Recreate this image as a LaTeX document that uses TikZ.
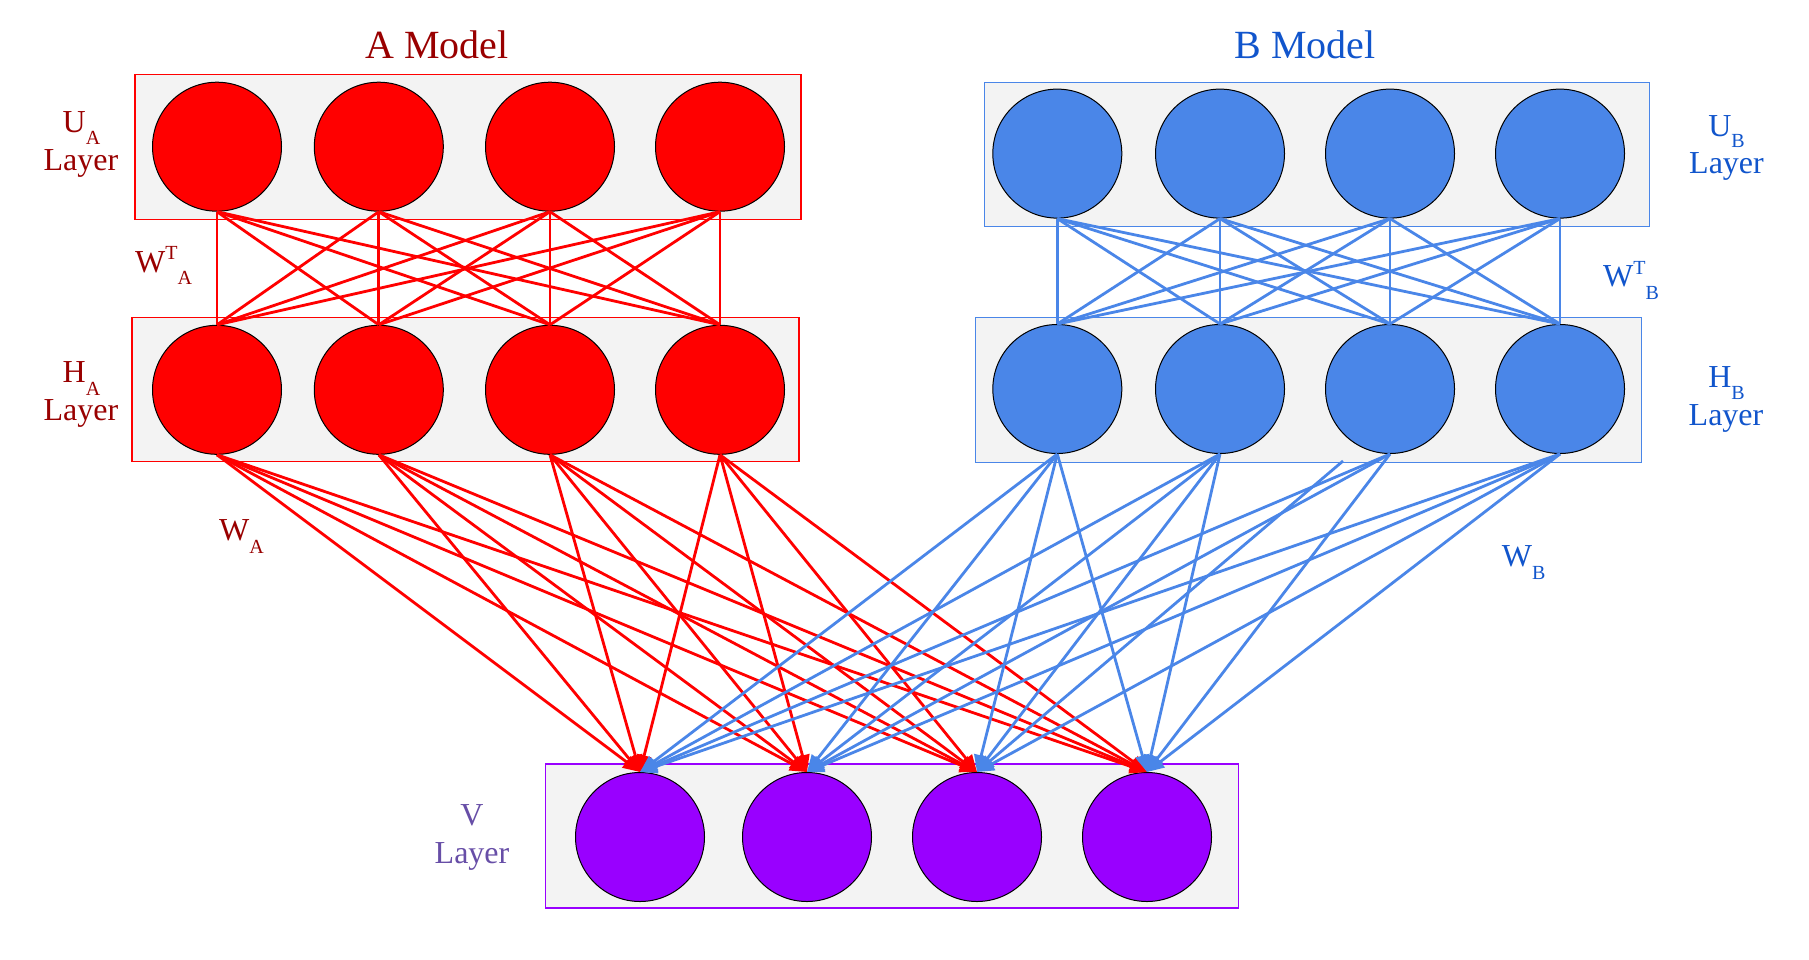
\documentclass[tikz,border=0pt]{standalone}
\usepackage{fontspec}
\setmainfont{Liberation Serif}
\usetikzlibrary{arrows.meta}
\definecolor{aRed}{HTML}{FF0000}
\definecolor{aText}{HTML}{990000}
\definecolor{bBlue}{HTML}{4A86E8}
\definecolor{bText}{HTML}{1155CC}
\definecolor{vPurple}{HTML}{9900FF}
\definecolor{vText}{HTML}{674EA7}
\definecolor{boxGray}{HTML}{F3F3F3}
\newcommand{\subf}{\fontsize{20}{20}\selectfont}
\newcommand{\shiftsub}[2]{\raisebox{#1}[0pt][0pt]{\subf #2}}
\begin{document}
\begin{tikzpicture}[x=1pt,y=-1pt,
  layerbox/.style={line width=1.2pt, fill=boxGray, minimum height=144pt, inner sep=0pt},
  neuron/.style={circle, draw=black, line width=1pt, minimum size=129pt, inner sep=0pt},
  linkA/.style={aRed, line width=2.8pt},
  linkB/.style={bBlue, line width=2.8pt},
  tipstyle/.style={-{Triangle[length=17pt,width=14pt]}},
  lbl/.style={inner sep=0pt, font=\fontsize{32}{38}\selectfont},
  ttl/.style={inner sep=0pt, font=\fontsize{40}{48}\selectfont, anchor=base}]
\useasboundingbox (0,0) rectangle (1809,959);
\fill[white] (0,0) rectangle (1809,959);

% titles
\node[ttl, aText] (titleA) at (437,58.4) {A Model};
\node[ttl, bText] (titleB) at (1305,58.4) {B Model};

% layer boxes
\node[layerbox, draw=aRed, minimum width=666pt, minimum height=145pt] (uabox) at (468,146.8) {};
\node[layerbox, draw=aRed, minimum width=667pt] (habox) at (465.5,389.4) {};
\node[layerbox, draw=bBlue, minimum width=665pt] (ubbox) at (1316.7,154.2) {};
\node[layerbox, draw=bBlue, minimum width=666pt, minimum height=145pt] (hbbox) at (1308.2,389.9) {};
\node[layerbox, draw=vPurple, minimum width=693pt] (vbox) at (892.1,836) {};

% neurons
\foreach \i/\x in {1/217,2/378.8,3/550,4/720} {
  \node[neuron, fill=aRed] (ua\i) at (\x,146.7) {};
  \node[neuron, fill=aRed] (ha\i) at (\x,389.8) {};
}
\foreach \i/\x in {1/1057.3,2/1220,3/1390,4/1560} {
  \node[neuron, fill=bBlue] (ub\i) at (\x,153.6) {};
  \node[neuron, fill=bBlue] (hb\i) at (\x,389) {};
}
\foreach \i/\x in {1/640,2/807,3/977,4/1147} {
  \node[neuron, fill=vPurple] (v\i) at (\x,837) {};
}

% U -> H links
\foreach \i in {1,...,4} {
  \foreach \j in {1,...,4} {
    \draw[linkA] (ua\i.south) -- (ha\j.north);
    \draw[linkB] (ub\i.south) -- (hb\j.north);
  }
}

% H_A -> V arrows
\foreach \i in {1,...,4} {
  \foreach \j in {1,...,4} {
    \draw[linkA, tipstyle] (ha\i.south) -- (v\j.north);
  }
}

% H_B -> V arrows
\foreach \i in {1,2,4} {
  \foreach \j in {1,...,4} {
    \draw[linkB, tipstyle] (hb\i.south) -- (v\j.north);
  }
}
\foreach \j in {1,2,4} {
  \draw[linkB, tipstyle] (hb3.south) -- (v\j.north);
}
\coordinate (strayB) at (1343,461);
\draw[linkB, tipstyle] (strayB) -- (v3.north);

% labels A side
\node[lbl, aText, anchor=base] (uaSym) at (81.5,132) {U\shiftsub{-12pt}{A}};
\node[lbl, aText, anchor=base] (uaLay) at (81,170) {Layer};
\node[lbl, aText, anchor=base] (haSym) at (81.5,382.7) {H\shiftsub{-12.3pt}{A}};
\node[lbl, aText, anchor=base] (haLay) at (81,420.7) {Layer};
\node[lbl, aText, anchor=base west] (wta) at (135,272) {W\shiftsub{13pt}{T}\shiftsub{-12pt}{A}};
\node[lbl, aText, anchor=base west] (wa) at (219,540.7) {W\shiftsub{-12.3pt}{A}};

% labels B side
\node[lbl, bText, anchor=base] (ubSym) at (1726.5,136) {U\shiftsub{-11.7pt}{B}};
\node[lbl, bText, anchor=base] (ubLay) at (1726.5,173.3) {Layer};
\node[lbl, bText, anchor=base] (hbSym) at (1726.5,387.3) {H\shiftsub{-11.7pt}{B}};
\node[lbl, bText, anchor=base] (hbLay) at (1726,425) {Layer};
\node[lbl, bText, anchor=base west] (wtb) at (1603,286.7) {W\shiftsub{12.7pt}{T}\shiftsub{-12.3pt}{B}};
\node[lbl, bText, anchor=base west] (wb) at (1501.6,566.7) {W\shiftsub{-12.3pt}{B}};

% V label
\node[lbl, vText, anchor=base] (vSym) at (472,825) {V};
\node[lbl, vText, anchor=base] (vLay) at (472,863.3) {Layer};
\end{tikzpicture}
\end{document}
